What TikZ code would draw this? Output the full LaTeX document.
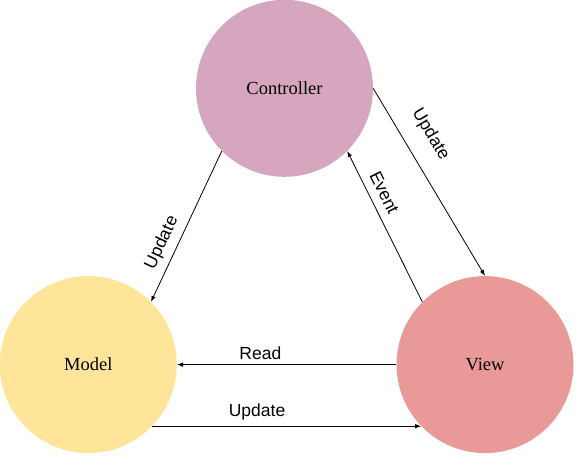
\documentclass[tikz,border=0pt]{standalone}
\usepackage{fontspec}
\setmainfont{Liberation Serif}
\setsansfont{Liberation Sans}
\usetikzlibrary{arrows.meta}
\definecolor{ctrlc}{HTML}{D5A6BD}
\definecolor{modelc}{HTML}{FFE599}
\definecolor{viewc}{HTML}{EA9999}
\tikzset{
  bubble/.style={circle, draw=none, inner sep=0pt, minimum size=177pt,
    font=\fontsize{18.5}{20}\selectfont\rmfamily},
  conn/.style={line width=0.8pt, -{Latex[length=6pt,width=4.5pt]}},
  lbl/.style={inner sep=0pt, font=\fontsize{17.5}{19}\selectfont\sffamily}
}
\begin{document}
\begin{tikzpicture}[x=1pt,y=-1pt]
\useasboundingbox (0,0) rectangle (585,471);
\fill[white] (0,0) rectangle (585,471);
\node[bubble, fill=ctrlc] (ctrl) at (284.5,88.3) {Controller};
\node[bubble, fill=modelc] (model) at (88.3,364.6) {Model};
\node[bubble, fill=viewc] (view) at (485,364.6) {View};
\draw[conn] (ctrl.225.5) -- node[lbl, sloped, pos=0.65, above=6.7pt] (l1) {Update} (model.45);
\draw[conn] (ctrl.0) -- node[lbl, sloped, pos=0.316, above=17pt] (l2) {Update} (view.90);
\draw[conn] (view.135) -- node[lbl, sloped, pos=0.681, above=8.2pt] (l3) {Event} (ctrl.315);
\draw[conn] (view.180) -- node[lbl, pos=0.62, above=5pt] (l4) {Read} (model.0);
\draw[conn] (model.-44.5) -- node[lbl, pos=0.39, above=5.3pt] (l5) {Update} (view.224.5);
\end{tikzpicture}
\end{document}
